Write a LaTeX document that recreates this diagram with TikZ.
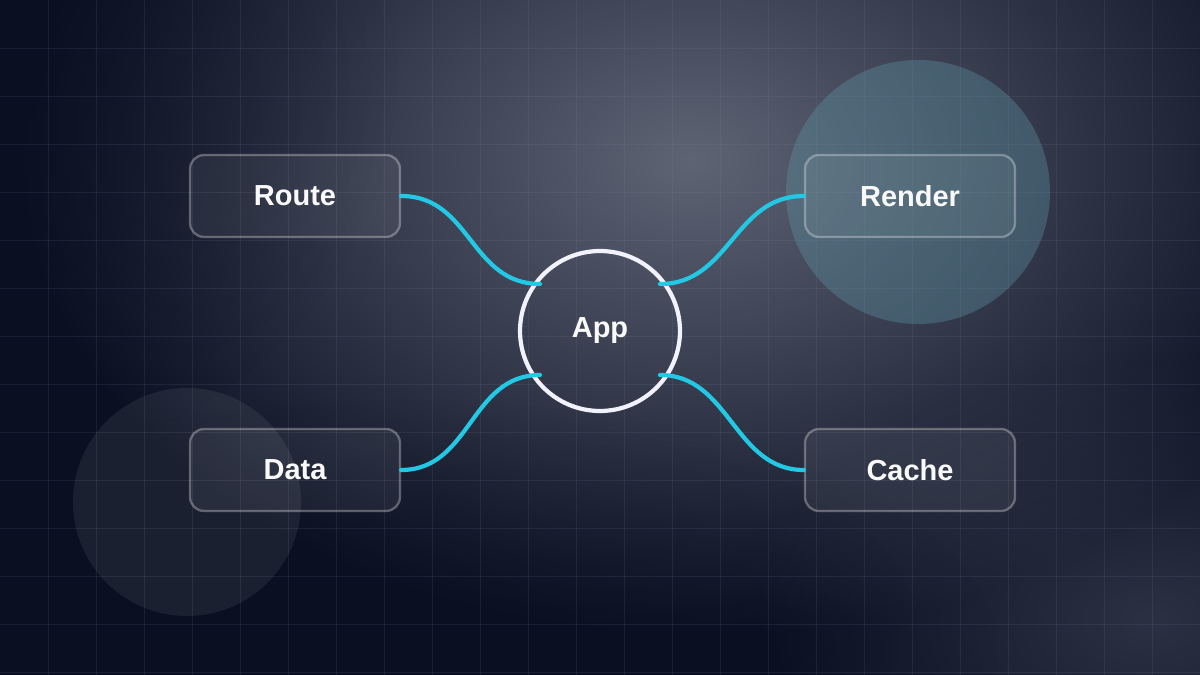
\documentclass[tikz,border=0pt]{standalone}
\usepackage{fontspec}
\setmainfont{Liberation Sans}
\usetikzlibrary{fadings}
\tikzfading[name=softglow, inner color=transparent!0, outer color=transparent!100]
\definecolor{bgdark}{HTML}{0A1022}
\definecolor{glow}{HTML}{5E6474}
\definecolor{gridc}{HTML}{8890A8}
\definecolor{cyanl}{HTML}{22C8E4}
\definecolor{teal}{HTML}{5E98A8}
\begin{document}
\begin{tikzpicture}[x=0.02cm,y=-0.02cm,
  box/.style={draw=white, draw opacity=0.3, fill=white, fill opacity=0.06, text opacity=1, line width=1.3pt, rounded corners=0.28cm, minimum width=4.2cm, minimum height=1.64cm, text=white!95!gray, font=\bfseries\fontsize{16.5}{18}\selectfont},
  link/.style={draw=cyanl, line width=2.4pt, line cap=round}]
\useasboundingbox (0,0) rectangle (1200,675);
\fill[bgdark] (0,0) rectangle (1200,675);
\begin{scope}
\clip (0,0) rectangle (1200,675);
\fill[glow, path fading=softglow] (690,160) ellipse (680 and 480);
\fill[glow, path fading=softglow, opacity=0.4] (1150,620) ellipse (400 and 260);
\fill[bgdark, path fading=softglow, opacity=0.6] (0,60) ellipse (400 and 400);
\fill[bgdark, path fading=softglow, opacity=0.5] (400,650) ellipse (600 and 250);
\foreach \x in {48,96,...,1200} \draw[gridc, opacity=0.12, line width=0.5pt] (\x,0) -- (\x,675);
\foreach \y in {48,96,...,675} \draw[gridc, opacity=0.12, line width=0.5pt] (0,\y) -- (1200,\y);
\fill[teal, opacity=0.35] (918,192) circle (132);
\fill[white, opacity=0.07] (187,502) circle (114);
\end{scope}
\node[box] (route) at (295,196) {Route};
\node[box] (render) at (910,196) {Render};
\node[box] (data) at (295,470) {Data};
\node[box] (cache) at (910,470) {Cache};
\node[circle, draw=white!95!blue, line width=2.4pt, minimum size=3.2cm, text=white!95!gray, font=\bfseries\fontsize{16.5}{18}\selectfont] (app) at (600,331) {App};
\coordinate (a1) at (540,284);
\coordinate (a2) at (660,284);
\coordinate (a3) at (540,375);
\coordinate (a4) at (660,375);
\draw[link] (route.east) .. controls +(70,0) and +(-70,0) .. (a1);
\draw[link] (render.west) .. controls +(-70,0) and +(70,0) .. (a2);
\draw[link] (data.east) .. controls +(70,0) and +(-70,0) .. (a3);
\draw[link] (cache.west) .. controls +(-70,0) and +(70,0) .. (a4);
\end{tikzpicture}
\end{document}
